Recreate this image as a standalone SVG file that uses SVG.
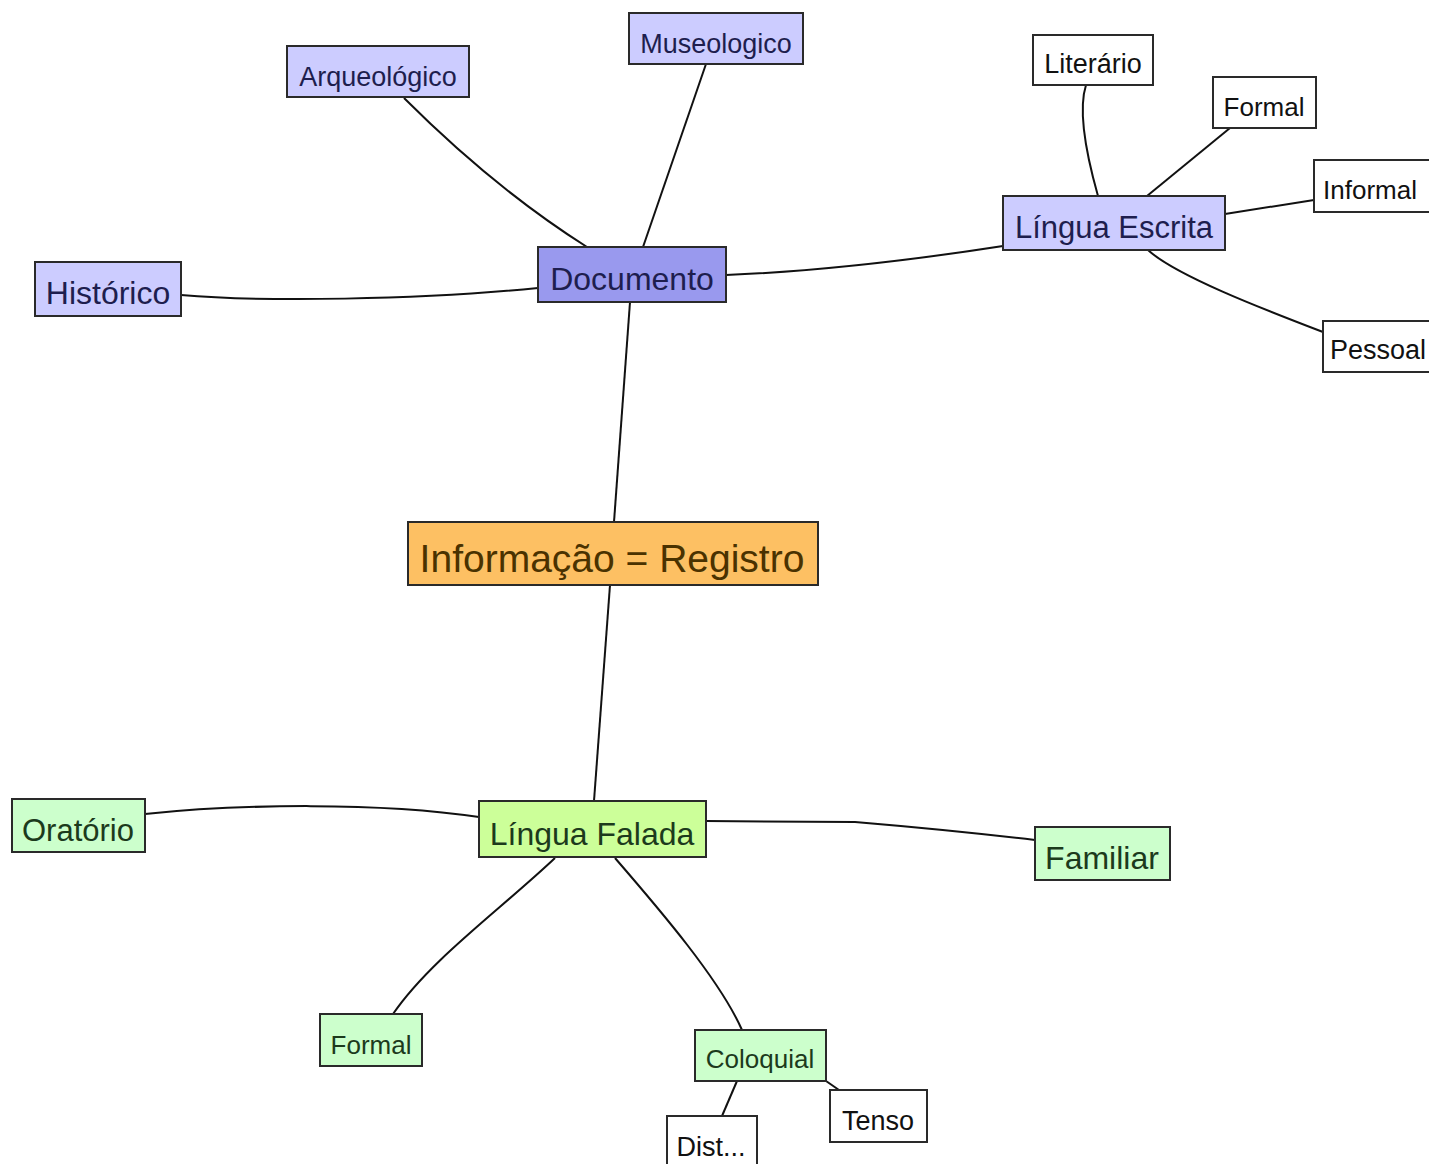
<svg xmlns="http://www.w3.org/2000/svg" width="1429" height="1164" viewBox="0 0 1429 1164">
<style>
.c{fill:none;stroke:#111;stroke-width:2}
.n{stroke:#2a2a2a;stroke-width:2}
.t{font-family:"Liberation Sans",Arial,sans-serif;text-anchor:middle}
.blue1{fill:#9999ee}.blue2{fill:#ccccff}.orange{fill:#fdc063}.green1{fill:#ccff99}.green2{fill:#ccffcc}.white{fill:#ffffff}
.tb{fill:#1e1e4e}.to{fill:#4a3200}.tg{fill:#1c3a1c}.tw{fill:#111}
</style>
<rect width="1429" height="1164" fill="#ffffff"/>
<g id="connectors">
<path class="c" d="M404 98 Q494 188 587 247"/>
<path class="c" d="M706 64 L643 247"/>
<path class="c" d="M181 295 C260 302 420 300 538 288"/>
<path class="c" d="M726 275 C800 272 900 262 1003 246"/>
<path class="c" d="M630 302 L614 522"/>
<path class="c" d="M610 585 L594 801"/>
<path class="c" d="M1086 85 C1078 110 1085 150 1098 196"/>
<path class="c" d="M1230 128 L1147 196"/>
<path class="c" d="M1225 214 L1314 200"/>
<path class="c" d="M1148 250 C1175 275 1260 308 1323 332"/>
<path class="c" d="M145 814 C240 804 380 802 479 817"/>
<path class="c" d="M706 821 L855 822 Q950 830 1035 840"/>
<path class="c" d="M555 858 C500 910 430 960 393 1014"/>
<path class="c" d="M615 858 C660 910 720 980 742 1030"/>
<path class="c" d="M737 1081 L722 1116"/>
<path class="c" d="M826 1081 L839 1090"/>
</g>
<g id="museologico"><rect class="n blue2" x="629" y="13" width="174" height="51"/><text class="t tb" x="716" y="53" font-size="27">Museologico</text></g>
<g id="arqueologico"><rect class="n blue2" x="287" y="46" width="182" height="51"/><text class="t tb" x="378" y="86" font-size="27">Arqueológico</text></g>
<g id="documento"><rect class="n blue1" x="538" y="247" width="188" height="55"/><text class="t tb" x="632" y="290" font-size="32">Documento</text></g>
<g id="historico"><rect class="n blue2" x="35" y="262" width="146" height="54"/><text class="t tb" x="108" y="304" font-size="32">Histórico</text></g>
<g id="lingua-escrita"><rect class="n blue2" x="1003" y="196" width="222" height="54"/><text class="t tb" x="1114" y="238" font-size="31">Língua Escrita</text></g>
<g id="literario"><rect class="n white" x="1033" y="35" width="120" height="50"/><text class="t tw" x="1093" y="73" font-size="27">Literário</text></g>
<g id="formal-escrita"><rect class="n white" x="1213" y="77" width="103" height="51"/><text class="t tw" x="1264" y="116" font-size="26">Formal</text></g>
<g id="informal"><rect class="n white" x="1314" y="160" width="120" height="52"/><text class="t tw" x="1370" y="199" font-size="26">Informal</text></g>
<g id="pessoal"><rect class="n white" x="1323" y="321" width="112" height="51"/><text class="t tw" x="1378" y="359" font-size="27">Pessoal</text></g>
<g id="informacao"><rect class="n orange" x="408" y="522" width="410" height="63"/><text class="t to" x="612" y="572" font-size="39">Informação = Registro</text></g>
<g id="lingua-falada"><rect class="n green1" x="479" y="801" width="227" height="56"/><text class="t tg" x="592" y="845" font-size="32">Língua Falada</text></g>
<g id="oratorio"><rect class="n green2" x="12" y="799" width="133" height="53"/><text class="t tg" x="78" y="841" font-size="31">Oratório</text></g>
<g id="familiar"><rect class="n green2" x="1035" y="827" width="135" height="53"/><text class="t tg" x="1102" y="869" font-size="32">Familiar</text></g>
<g id="formal-falada"><rect class="n green2" x="320" y="1014" width="102" height="52"/><text class="t tg" x="371" y="1054" font-size="26">Formal</text></g>
<g id="coloquial"><rect class="n green2" x="695" y="1030" width="131" height="51"/><text class="t tg" x="760" y="1068" font-size="26">Coloquial</text></g>
<g id="tenso"><rect class="n white" x="830" y="1090" width="97" height="52"/><text class="t tw" x="878" y="1130" font-size="27">Tenso</text></g>
<g id="dist"><rect class="n white" x="667" y="1116" width="90" height="52"/><text class="t tw" x="711" y="1156" font-size="27">Dist...</text></g>
</svg>
